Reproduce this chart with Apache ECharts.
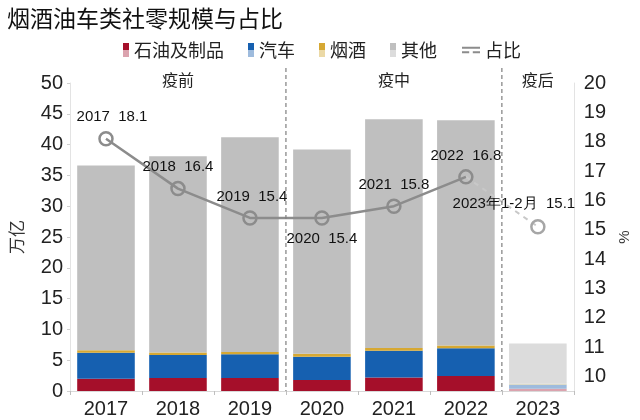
<!DOCTYPE html>
<html><head><meta charset="utf-8">
<script src="https://cdn.jsdelivr.net/npm/echarts@6/dist/echarts.min.js"></script>
<style>html,body{margin:0;padding:0;background:#fff}#c{width:640px;height:420px}</style>
</head><body><div id="c"></div>
<script>
const years = ['2017','2018','2019','2020','2021','2022','2023'];
const petroleum = [2.0, 2.1, 2.1, 1.78, 2.2, 2.45, 0.36];
const autos = [4.2, 3.75, 3.85, 3.8, 4.35, 4.5, 0.71];
const tobacco = [0.42, 0.4, 0.39, 0.45, 0.42, 0.44, 0.09];
const others = [29.98, 31.85, 34.86, 33.17, 37.13, 36.58, 6.55];
const share = [18.1, 16.4, 15.4, 15.4, 15.8, 16.8, 15.1];
const shareNames = ['2017','2018','2019','2020','2021','2022','2023年1-2月'];
const periods = ['疫前','疫中','疫后'];
const periodBounds = [0, 3, 6, 7];
const leftTicks = [0, 50, 5];
const rightTicks = [9.5, 20, 0.5];

const CJK = '"Noto Sans CJK SC", sans-serif';
const NUM = '"Liberation Sans", Arial, sans-serif';
const dark = ['#A50F2A', '#1660B0', '#D6A833', '#BFBFBF'];
const light = ['#DBA3AE', '#9EBBDD', '#EBD9A6', '#DCDCDC'];
const names = ['石油及制品', '汽车', '烟酒', '其他'];
const values = [petroleum, autos, tobacco, others];

function twoTone(i) {
  return {type:'linear', x:0, y:0, x2:0, y2:1, colorStops:[
    {offset:0, color:dark[i]}, {offset:0.5, color:dark[i]},
    {offset:0.5, color:light[i]}, {offset:1, color:light[i]}]};
}

const barSeries = values.map((arr, i) => ({
  name: names[i], type: 'bar', stack: 'total', barWidth: '80%',
  itemStyle: {color: twoTone(i)},
  data: arr.map((v, j) => ({value: v, itemStyle: {color: j === years.length - 1 ? light[i] : dark[i]}}))
}));

const labelTweaks = [
  {position:'top', offset:[6,-1]},
  {position:'top', offset:[0,0]},
  {position:'top', offset:[2,0]},
  {position:'bottom', offset:[0,0]},
  {position:'top', offset:[0,0]},
  {position:'top', offset:[0,0]},
  {position:'top', offset:[-24,-2]}
];

const lineData = share.map((v, j) => ({
  value: v,
  label: Object.assign({show:true, formatter: shareNames[j] + '  ' + v.toFixed(1)}, labelTweaks[j])
}));
const solidData = lineData.map((d, j) => j < share.length - 1 ? d : '-');
const lastData = lineData.map((d, j) => j === share.length - 1 ? d : '-');
const dashData = share.map((v, j) => j >= share.length - 2 ? v : '-');

const option = {
  animation: false,
  title: {text:'烟酒油车类社零规模与占比', left:2, top:2,
    textStyle:{fontFamily:CJK, fontSize:23, fontWeight:'normal', color:'#111'}},
  legend: [
    {top:36, left:118, itemGap:24, itemWidth:6, itemHeight:14,
      textStyle:{fontFamily:CJK, fontSize:18, color:'#222'},
      data: names.map((n, i) => ({name:n, icon:'rect', itemStyle:{color:twoTone(i)}}))},
    {top:36, left:457, itemWidth:18, itemHeight:7,
      textStyle:{fontFamily:CJK, fontSize:18, color:'#222'},
      data: [{name:'占比', icon:'path://M0,0 L20,0 L20,2 L0,2 Z M0,5 L8,5 L8,7 L0,7 Z M12,5 L20,5 L20,7 L12,7 Z',
        itemStyle:{color:'#8C8C8C'}}]}
  ],
  grid: {left:66, right:62, top:83, bottom:29},
  xAxis: [
    {type:'category', data:years, axisLine:{lineStyle:{color:'#D9D9D9'}},
      axisTick:{show:true, lineStyle:{color:'#BFBFBF'}, length:4},
      axisLabel:{fontFamily:NUM, fontSize:20, color:'#222', margin:8}},
    {type:'value', min:periodBounds[0], max:periodBounds[3], show:false}
  ],
  yAxis: [
    {type:'value', min:leftTicks[0], max:leftTicks[1], interval:leftTicks[2],
      name:'万亿', nameLocation:'middle', nameRotate:90, nameGap:45,
      nameTextStyle:{fontFamily:CJK, fontSize:17, color:'#333'},
      axisLine:{show:true, lineStyle:{color:'#E3E3E3'}},
      axisTick:{show:true, lineStyle:{color:'#D0D0D0'}, length:3},
      splitLine:{show:false},
      axisLabel:{fontFamily:NUM, fontSize:20, color:'#222', margin:7}},
    {type:'value', min:rightTicks[0], max:rightTicks[1], interval:rightTicks[2],
      name:'%', nameLocation:'middle', nameRotate:90, nameGap:40,
      nameTextStyle:{fontFamily:NUM, fontSize:15, color:'#333'},
      axisLine:{show:true, lineStyle:{color:'#E3E3E3'}},
      axisTick:{show:false},
      splitLine:{show:false},
      axisLabel:{fontFamily:NUM, fontSize:20, color:'#222', margin:10,
        formatter: v => Math.abs(v - Math.round(v)) < 1e-6 ? String(Math.round(v)) : ''}}
  ],
  series: barSeries.concat([
    {name:'占比', type:'line', yAxisIndex:1, data:dashData, symbol:'none',
      lineStyle:{color:'#C8C8C8', width:2, type:[5,5]}, z:3},
    {name:'占比', type:'line', yAxisIndex:1, data:solidData, symbol:'circle', symbolSize:13,
      lineStyle:{color:'#8C8C8C', width:2.5},
      itemStyle:{color:'rgba(255,255,255,0)', borderColor:'#8C8C8C', borderWidth:2.5},
      label:{color:'#111', fontFamily:NUM, fontSize:15, distance:6}, z:4},
    {name:'占比2023', type:'line', yAxisIndex:1, data:lastData,
      symbol:'circle', symbolSize:13,
      itemStyle:{color:'rgba(255,255,255,0)', borderColor:'#A6A6A6', borderWidth:2.5},
      label:{color:'#111', fontFamily:NUM, fontSize:15, distance:6}, z:4}
  ])
};

const chart = echarts.init(document.getElementById('c'), null, {renderer:'canvas'});
chart.setOption(option);

const yTop = chart.convertToPixel({yAxisIndex:0}, leftTicks[1]);
const yBot = chart.convertToPixel({yAxisIndex:0}, leftTicks[0]);
const xs = periodBounds.map(v => chart.convertToPixel({xAxisIndex:1}, v));
const graphics = [];
[1, 2].forEach(k => graphics.push({type:'line', z:10, silent:true,
  shape:{x1:xs[k], y1:yTop - 15, x2:xs[k], y2:yBot},
  style:{stroke:'#7F7F7F', lineWidth:1.2, lineDash:[4,3]}}));
periods.forEach((p, k) => graphics.push({type:'text', z:10, silent:true,
  x:(xs[k] + xs[k + 1]) / 2, y:yTop - 3,
  style:{text:p, fontFamily:CJK, fontSize:16, fill:'#222', align:'center', verticalAlign:'middle'}}));
chart.setOption({graphic:graphics});
</script></body></html>
